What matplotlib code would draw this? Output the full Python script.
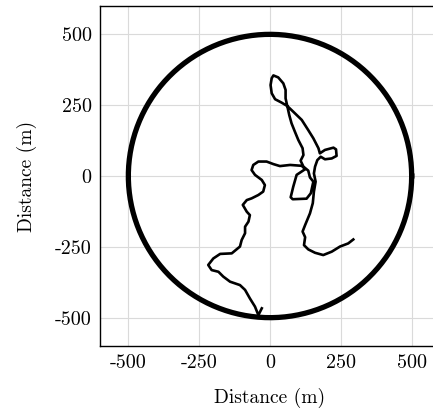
import numpy as np
import matplotlib
matplotlib.use("Agg")
import matplotlib.pyplot as plt

# trajectory (m)
pathx = [-29, -41, -53, -71, -88, -106, -141, -165, -182, -206, -218, -200, -176, -135,
         -106, -100, -88, -88, -76, -71, -82, -96, -82, -65, -41, -24, -18, -29, -53, -65,
         -59, -41, -12, 12, 35, 71, 112, 124, 94, 82, 73, 80, 129, 144, 153, 141, 135, 118,
         108, 118, 115, 100, 88, 76, 68, 61, 41, 18, 6, 2, 6, 12, 29, 47, 55, 55, 61, 82,
         112, 135, 153, 171, 176, 194, 224, 233, 235, 218, 194, 179, 167, 159, 155, 161,
         155, 151, 141, 124, 115, 124, 120, 135, 159, 188, 218, 247, 276, 294]
pathy = [-467, -491, -461, -432, -402, -385, -373, -355, -338, -332, -314, -291, -275, -273,
         -249, -226, -202, -179, -161, -138, -126, -102, -85, -79, -67, -55, -32, -14, 4, 21,
         39, 51, 51, 42, 35, 39, 36, 24, 4, -38, -75, -82, -80, -61, -20, -5, 19, 33,
         54, 74, 98, 127, 156, 186, 215, 247, 259, 271, 292, 321, 345, 355, 348, 327, 304, 274, 247, 227,
         198, 162, 133, 98, 80, 92, 100, 94, 71, 62, 59, 68, 56, 33, 9, -20,
         -55, -96, -132, -173, -196, -216, -244, -259, -271, -279, -267, -249, -238, -224]

radius = 500
ticks = [-500, -250, 0, 250, 500]

plt.rcParams['font.family'] = 'cmr10'
plt.rcParams['axes.unicode_minus'] = False
plt.rcParams['mathtext.fontset'] = 'cm'

fig = plt.figure(figsize=(4.33, 4.12), dpi=100)
ax = fig.add_axes([100 / 433, 66 / 412, 340 / 433, 340 / 412])

theta = np.linspace(0, 2 * np.pi, 400)
ax.plot(radius * np.cos(theta), radius * np.sin(theta), color='black', lw=3.8, zorder=3)
ax.plot(pathx, pathy, color='black', lw=1.9, zorder=4, solid_joinstyle='round')

ax.set_xlim(-600, 600)
ax.set_ylim(-600, 600)
ax.set_xticks(ticks)
ax.set_yticks(ticks)
ax.grid(True, color='#dadada', lw=0.8)
ax.set_axisbelow(True)
ax.tick_params(length=0, labelsize=14.5, pad=6)
ax.spines['right'].set_visible(False)
for s in ['left', 'top', 'bottom']:
    ax.spines[s].set_linewidth(1.0)

ax.set_xlabel("Distance (m)", fontsize=14, labelpad=11)
ax.set_ylabel("Distance (m)", fontsize=14, labelpad=13)

fig.savefig("out.png", dpi=100)
